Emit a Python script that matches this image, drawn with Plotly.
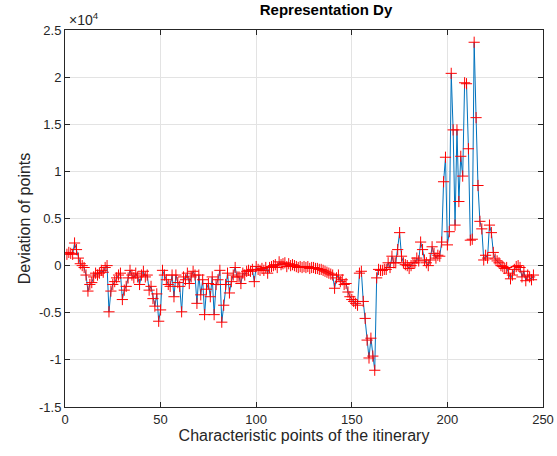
import plotly.graph_objects as go

# Deviation values in units of 1e4, index = characteristic point 1..N
dev_e4 = [
    0.12, 0.14, 0.13, 0.12, 0.24, 0.17, 0.08, 0.02, 0.00, -0.02,
    -0.10, -0.27, -0.20, -0.18, -0.12, -0.08, -0.10, -0.08, -0.05, -0.07,
    -0.02, 0.00, -0.49, -0.27, -0.20, -0.17, -0.13, -0.10, -0.08, -0.36,
    -0.26, -0.22, -0.13, -0.05, -0.10, -0.13, -0.08, -0.12, -0.20, -0.10,
    -0.06, -0.12, -0.10, -0.26, -0.22, -0.35, -0.43, -0.30, -0.59, -0.47,
    -0.05, -0.10, -0.15, -0.20, -0.22, -0.10, -0.33, -0.10, -0.18, -0.22,
    -0.49, -0.12, -0.15, -0.08, -0.19, -0.12, -0.06, -0.10, -0.40, -0.10,
    -0.31, -0.15, -0.52, -0.25, -0.19, -0.33, -0.12, -0.52, -0.20, -0.15,
    -0.05, -0.60, -0.42, -0.20, -0.08, -0.29, -0.17, -0.10, -0.02, -0.12,
    -0.12, -0.19, -0.08, -0.10, -0.06, -0.05, -0.06, -0.04, -0.17, -0.01,
    -0.04, -0.05, -0.03, -0.05, -0.02, -0.08, -0.02, -0.01, 0.00, 0.01,
    -0.02, 0.04, 0.01, 0.02, 0.03, -0.01, 0.02, 0.00, 0.01, 0.00,
    -0.01, -0.02, -0.01, -0.02, -0.01, -0.02, -0.01, -0.03, -0.02, -0.02,
    -0.03, -0.03, -0.04, -0.04, -0.05, -0.06, -0.07, -0.08, -0.09, -0.10,
    -0.24, -0.13, -0.10, -0.17, -0.15, -0.20, -0.19, -0.28, -0.33, -0.36,
    -0.38, -0.40, -0.42, -0.08, -0.06, -0.38, -0.56, -0.79, -0.98, -0.77,
    -0.96, -1.11, -0.13, -0.04, -0.05, -0.05, -0.04, -0.04, 0.03, -0.02,
    0.10, 0.03, 0.03, 0.17, 0.35, 0.10, 0.03, 0.01, 0.00, -0.03,
    0.00, 0.03, 0.03, 0.08, 0.05, 0.25, 0.17, 0.06, 0.03, 0.00,
    0.06, 0.20, 0.13, 0.08, 0.11, 0.10, 0.25, 0.89, 1.15, 0.22,
    0.36, 2.04, 1.44, 0.43, 1.44, 0.68, 1.16, 0.95, 1.94, 1.93,
    1.24, 0.27, 0.28, 2.37, 1.57, 0.85, 0.47, 0.39, 0.06, 0.11,
    0.08, 0.43, 0.35, 0.14, 0.07, 0.05, 0.03, 0.00, -0.01, -0.03,
    -0.02, -0.08, -0.14, -0.10, -0.04, -0.01, 0.00, -0.02, -0.12, -0.06,
    -0.16, -0.10, -0.12, -0.15, -0.10,
]
deviation = [v * 1e4 for v in dev_e4]
points = list(range(1, len(deviation) + 1))

x_ticks = [0, 50, 100, 150, 200, 250]
y_tick_vals = [-15000, -10000, -5000, 0, 5000, 10000, 15000, 20000, 25000]
y_tick_text = ["-1.5", "-1", "-0.5", "0", "0.5", "1", "1.5", "2", "2.5"]

FONT = "Liberation Sans, Arial"

fig = go.Figure()
fig.add_trace(go.Scatter(
    x=points, y=deviation, mode="lines+markers",
    line=dict(color="#0072BD", width=1),
    marker=dict(symbol="cross-thin", size=8, color="#FF0000",
                line=dict(color="#FF0000", width=1)),
    showlegend=False,
))

axis_common = dict(
    showline=True, linecolor="#262626", linewidth=1, mirror="ticks",
    ticks="inside", ticklen=5, tickcolor="#262626",
    showgrid=True, gridcolor="#E3E3E3", gridwidth=1, zeroline=False,
    automargin=False,
    tickfont=dict(family=FONT, size=13, color="#262626"),
)

fig.update_layout(
    width=557, height=456,
    margin=dict(l=65, r=14, t=30, b=49),
    paper_bgcolor="white", plot_bgcolor="white",
    title=dict(text="<b>Representation Dy</b>", x=0.546, xanchor="center",
               xref="paper", y=0.99, yanchor="top",
               font=dict(family=FONT, size=15, color="black")),
    xaxis=dict(range=[0, 250], tickvals=x_ticks,
               title=dict(text="Characteristic points of the itinerary", standoff=4,
                          font=dict(family=FONT, size=16, color="#262626")),
               **axis_common),
    yaxis=dict(range=[-15000, 25000], tickvals=y_tick_vals, ticktext=y_tick_text,
               title=dict(text="Deviation of points", standoff=4,
                          font=dict(family=FONT, size=16, color="#262626")),
               **axis_common),
    annotations=[dict(text="×10<sup>4</sup>", x=0, y=1, xref="paper", yref="paper",
                      xanchor="left", yanchor="bottom", showarrow=False, xshift=2,
                      font=dict(family=FONT, size=14, color="#262626"))],
)

fig.write_html("out.html")
